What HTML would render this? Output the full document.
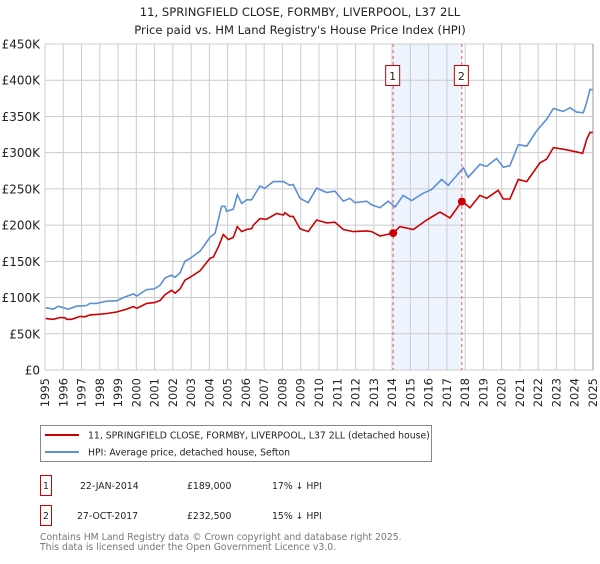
<!DOCTYPE html>
<html><head><meta charset="utf-8"><style>
body{margin:0;background:#fff;width:600px;height:560px;overflow:hidden;font-family:"DejaVu Sans","Liberation Sans",sans-serif;}
svg text{font-family:"DejaVu Sans","Liberation Sans",sans-serif;}
</style></head><body>
<svg id="chart" width="600" height="560" xmlns="http://www.w3.org/2000/svg">
<text x="300" y="16" text-anchor="middle" font-size="11.6" fill="#222">11, SPRINGFIELD CLOSE, FORMBY, LIVERPOOL, L37 2LL</text>
<text x="300" y="34" text-anchor="middle" font-size="11.6" fill="#222">Price paid vs. HM Land Registry's House Price Index (HPI)</text>
<g id="grid"></g>
<g id="plot"></g>
<g id="axes"></g>

<g>
<rect x="40.5" y="425.5" width="391" height="36" fill="#fff" stroke="#888"/>
<line x1="45" y1="435" x2="79" y2="435" stroke="#cc0000" stroke-width="2"/>
<text x="88" y="438.5" font-size="9.3" fill="#222">11, SPRINGFIELD CLOSE, FORMBY, LIVERPOOL, L37 2LL (detached house)</text>
<line x1="45" y1="452" x2="79" y2="452" stroke="#5b8fd6" stroke-width="2"/>
<text x="88" y="455.5" font-size="9.3" fill="#222">HPI: Average price, detached house, Sefton</text>
</g>
<g font-size="9.3" fill="#222">
<rect x="40.5" y="475.5" width="11" height="20" fill="#fff" stroke="#cc0000"/>
<text x="46" y="489" text-anchor="middle">1</text>
<text x="80" y="489">22-JAN-2014</text><text x="187" y="489">£189,000</text><text x="272" y="489">17% ↓ HPI</text>
<rect x="40.5" y="505.5" width="11" height="20" fill="#fff" stroke="#cc0000"/>
<text x="46" y="519" text-anchor="middle">2</text>
<text x="77" y="519">27-OCT-2017</text><text x="187" y="519">£232,500</text><text x="272" y="519">15% ↓ HPI</text>
</g>
<text x="40" y="540" font-size="9.3" fill="#777">Contains HM Land Registry data © Crown copyright and database right 2025.</text>
<text x="40" y="550" font-size="9.3" fill="#777">This data is licensed under the Open Government Licence v3.0.</text>
</svg>
<script>
const yTicks=[0,50,100,150,200,250,300,350,400,450];
const yTickLabels=["£0","£50K","£100K","£150K","£200K","£250K","£300K","£350K","£400K","£450K"];
const xYears=[1995,1996,1997,1998,1999,2000,2001,2002,2003,2004,2005,2006,2007,2008,2009,2010,2011,2012,2013,2014,2015,2016,2017,2018,2019,2020,2021,2022,2023,2024,2025];
const hpiYears=[1995.04,1995.46,1995.73,1996.28,1996.73,1997.28,1997.46,1997.83,1998.01,1998.38,1998.92,1999.29,1999.84,2000.02,2000.57,2000.99,2001.30,2001.57,2001.93,2002.12,2002.39,2002.66,2002.94,2003.49,2004.03,2004.31,2004.67,2004.85,2004.94,2005.31,2005.53,2005.77,2006.04,2006.31,2006.50,2006.77,2007.04,2007.50,2008.05,2008.41,2008.59,2008.96,2009.41,2009.87,2010.42,2010.87,2011.33,2011.69,2011.97,2012.61,2012.88,2013.34,2013.79,2014.16,2014.61,2015.07,2015.71,2016.16,2016.71,2017.08,2017.90,2018.17,2018.81,2019.18,2019.72,2020.09,2020.45,2020.91,2021.37,2021.91,2022.46,2022.83,2023.37,2023.74,2024.10,2024.47,2024.65,2024.83,2024.98];
const hpiValues=[86,84,88,84,88,89,92,92,93,95,95.5,100,105,102,111,112,117,127,131,128,134,150,154,164,183,189,226,226,219,222,242,230,235,235,243,254,251,260,260,255,256,237,231,251,245,247,233,237,231,233,228,224,233,225,241,234,244,249,263,255,279,266,284,281,292,280,282,311,309,330,346,361,357,362,356,355,369,387,387];
const propYears=[1995.04,1995.46,1995.82,1996.09,1996.19,1996.46,1996.92,1997.19,1997.46,1998.01,1998.38,1998.92,1999.47,1999.84,2000.02,2000.57,2000.99,2001.30,2001.57,2001.93,2002.12,2002.39,2002.66,2002.94,2003.49,2004.03,2004.22,2004.49,2004.76,2005.04,2005.31,2005.53,2005.77,2006.04,2006.31,2006.41,2006.77,2007.12,2007.68,2008.05,2008.14,2008.41,2008.59,2008.96,2009.41,2009.87,2010.42,2010.87,2011.33,2011.88,2012.61,2012.88,2013.34,2014.07,2014.43,2015.16,2015.89,2016.62,2017.17,2017.83,2018.26,2018.81,2019.18,2019.81,2020.09,2020.45,2020.91,2021.37,2022.10,2022.46,2022.83,2023.56,2024.29,2024.43,2024.65,2024.83,2024.98];
const propValues=[71,70,72.5,72,70,70,74,73.5,76,77,78,80,84,87.5,85,92,93,96,104,110,106,112,124,128,137,154,156,170,187,180,183,198,191,194,195,200,209,208,216,214,217,212,212,195,191,207,203,204,194,191,192,191,185,189,198,194,207,218,210,233,224,241,237,248,236,236,263,260,286,291,307,304,300,299,318,328,328];
const saleYears=[2014.06,2017.82];
const saleValues=[189,232.5];
const saleLabels=["1","2"];

const L=45,R=593,T=44,B=370;
const xs=y=>L+(y-1995)/30*(R-L);
const ys=v=>B-v/450*(B-T);
const NS="http://www.w3.org/2000/svg";
function mk(tag,attrs,parent){const e=document.createElementNS(NS,tag);for(const k in attrs)e.setAttribute(k,attrs[k]);parent.appendChild(e);return e;}
const grid=document.getElementById('grid'),plot=document.getElementById('plot'),axes=document.getElementById('axes');
const sh=mk('rect',{x:xs(saleYears[0]),y:T,width:xs(saleYears[1])-xs(saleYears[0]),height:B-T,fill:'#eef4fd'},grid);


xYears.forEach(y=>{const l=mk('line',{x1:xs(y),x2:xs(y),y1:T,y2:B,stroke:'#cccccc','stroke-width':1},grid);


const t=mk('text',{x:0,y:0,transform:`translate(${xs(y)+4},${B+8}) rotate(-90)`,'text-anchor':'end','font-size':'11.5',fill:'#222'},axes);


t.textContent=y;});
yTicks.forEach((v,i)=>{const l=mk('line',{x1:L,x2:R,y1:ys(v),y2:ys(v),stroke:'#cccccc','stroke-width':1},grid);


const t=mk('text',{x:40,y:ys(v)+4.5,'text-anchor':'end','font-size':'12',fill:'#222'},axes);


t.textContent=yTickLabels[i];});
const rb=mk('line',{x1:R,x2:R,y1:T,y2:B,stroke:'#999','stroke-width':1},grid);


function path(xa,va){return xa.map((y,i)=>(i?'L':'M')+xs(y).toFixed(1)+','+ys(va[i]).toFixed(1)).join('');}
const hp=mk('path',{d:path(hpiYears,hpiValues),fill:'none',stroke:'#5b8fd6','stroke-width':1.6},plot);


const pp=mk('path',{d:path(propYears,propValues),fill:'none',stroke:'#cc0000','stroke-width':1.6},plot);


saleYears.forEach((y,i)=>{
const d=mk('line',{x1:xs(y),x2:xs(y),y1:T,y2:B,stroke:'#e06060','stroke-width':1,'stroke-dasharray':'3,3'},plot);


const c=mk('circle',{cx:xs(y),cy:ys(saleValues[i]),r:4,fill:'#cc0000'},plot);


const b=mk('rect',{x:xs(y)-7.5,y:65.5,width:14,height:20,fill:'#fff',stroke:'#cc0000'},plot);


const t=mk('text',{x:xs(y)-0.5,y:80,'text-anchor':'middle','font-size':'11',fill:'#222'},plot);


t.textContent=saleLabels[i];});
</script>
</body></html>
